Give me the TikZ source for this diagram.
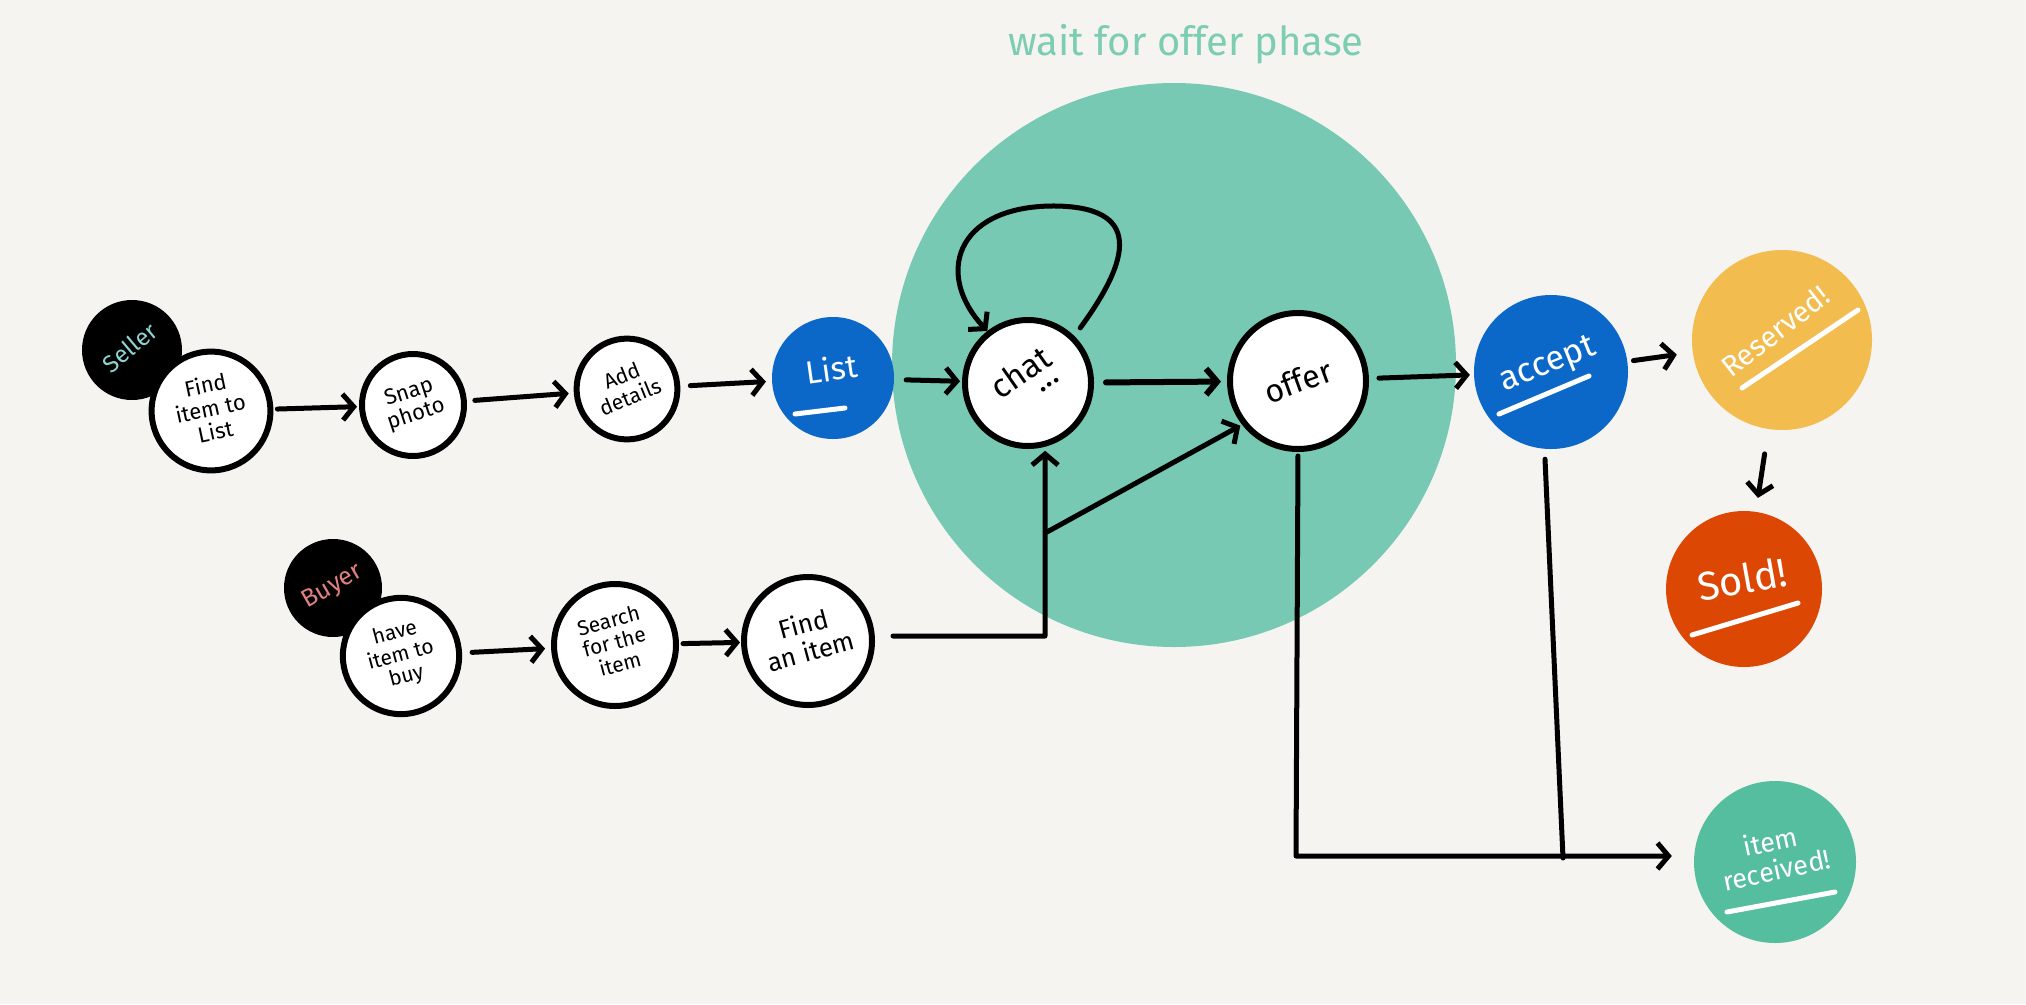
\documentclass[tikz,border=0pt]{standalone}
\usepackage{fontspec}
\usepackage{graphicx}
\setmainfont{Fira Sans}
\usetikzlibrary{arrows.meta,calc}
\definecolor{bgc}{RGB}{245,244,240}
\definecolor{phasegreen}{RGB}{119,201,179}
\definecolor{titlegreen}{RGB}{124,205,180}
\definecolor{listblue}{RGB}{11,104,200}
\definecolor{resyellow}{RGB}{242,188,78}
\definecolor{soldorange}{RGB}{220,71,4}
\definecolor{recgreen}{RGB}{85,190,158}
\definecolor{sellercyan}{RGB}{143,211,211}
\definecolor{buyerpink}{RGB}{224,128,128}
\newcommand{\rtxt}[2]{\rotatebox{#1}{\begin{tabular}{@{}c@{}}#2\end{tabular}}}
\begin{document}
\begin{tikzpicture}[x=1pt,y=-1pt,
  wnode/.style={circle, draw=black, line width=6pt, fill=white, minimum size=#1, inner sep=0pt, align=center},
  cnode/.style={circle, fill=#1, inner sep=0pt, align=center, text=white},
  fs/.style={font=\fontsize{#1}{#1}\selectfont},
  conn/.style={draw=black, line width=5pt, line cap=round, line join=round, -{Straight Barb[length=11pt,width=26pt]}},
  plain/.style={draw=black, line width=5pt, line cap=round, line join=round},
  uline/.style={draw=white, line width=5pt, line cap=round}]
\useasboundingbox (0,0) rectangle (2026,1004);
\fill[bgc] (0,0) rectangle (2026,1004);

% phase region
\node[circle, fill=phasegreen, minimum size=564pt, inner sep=0pt] (phase) at (1174,365) {};
\node[fs=40, text=titlegreen] (title) at (1186,44) {wait for offer phase};

% seller row
\node[circle, fill=black, minimum size=100pt, inner sep=0pt, text=sellercyan, fs=24] (seller) at (132,350) {\rtxt{40}{Seller}};
\node[wnode=110pt, fs=22] (find) at (211,411) {\rtxt{12}{Find\\item to\\List}};
\node[wnode=102pt, fs=22] (snap) at (413,405) {\rtxt{18}{Snap\\photo}};
\node[wnode=96pt, fs=21] (add) at (627,389) {\rtxt{22}{Add\\details}};
\node[cnode=listblue, minimum size=122pt, fs=32] (list) at (833,378) {\rtxt{8}{List\\[10pt]}};
\node[wnode=126pt, fs=33] (chat) at (1028,383) {\rtxt{35}{chat\\[-16pt]\hspace*{34pt}...}};
\node[wnode=136pt, fs=32] (offer) at (1298,381) {\rotatebox{20}{offer}};
\node[cnode=listblue, minimum size=154pt, fs=34] (accept) at (1551,372) {\rtxt{22}{accept\\[12pt]}};
\node[cnode=resyellow, minimum size=180pt, fs=29] (reserved) at (1782,340) {\rtxt{38}{Reserved!\\[14pt]}};
\node[cnode=soldorange, minimum size=156pt, fs=40] (sold) at (1744,589) {\rtxt{10}{Sold!\\[8pt]}};
\node[cnode=recgreen, minimum size=162pt, fs=27] (received) at (1775,862) {\rtxt{12}{item\\received!\\[6pt]}};

% buyer row
\node[circle, fill=black, minimum size=98pt, inner sep=0pt, text=buyerpink, fs=25] (buyer) at (333,588) {\rtxt{30}{Buyer}};
\node[wnode=108pt, fs=21] (have) at (401,656) {\rtxt{15}{have\\item to\\buy}};
\node[wnode=122pt, fs=21] (search) at (615,645) {\rtxt{15}{Search\\for the\\item}};
\node[wnode=128pt, fs=26] (finditem) at (808,641) {\rtxt{15}{Find\\an item}};

% underlines
\draw[uline] ($(list)+(-38,36)$) -- ($(list)+(12,30)$);
\draw[uline] ($(accept)+(-52,42)$) -- ($(accept)+(38,4)$);
\draw[uline] ($(reserved)+(-40,48)$) -- ($(reserved)+(76,-30)$);
\draw[uline] ($(sold)+(-52,46)$) -- ($(sold)+(54,14)$);
\draw[uline] ($(received)+(-48,50)$) -- ($(received)+(60,30)$);

% seller connectors
\draw[conn, shorten <=4pt, shorten >=2pt] (find) -- (snap);
\draw[conn, shorten <=8pt, shorten >=5pt] (snap) -- (add);
\draw[conn, shorten <=10pt, shorten >=6pt] (add) -- (list);
\draw[conn, shorten <=12pt, shorten >=2pt] (list) -- (chat);
\draw[conn, line width=6pt, shorten <=12pt, shorten >=6pt] (chat) -- (offer);
\draw[conn, shorten <=10pt, shorten >=4pt] (offer) -- (accept);
\draw[conn, shorten <=6pt, shorten >=16pt] (accept) -- (reserved);
\draw[conn, shorten <=25pt, shorten >=14pt] (reserved) -- (sold);

% self loop on chat
\draw[conn] (chat.48) ++(8,-6) coordinate (loopstart)
  .. controls (1130,260) and (1145,205) .. (1050,206)
  .. controls (955,208) and (935,275) .. (chat.128);

% buyer connectors
\draw[conn, shorten <=10pt, shorten >=6pt] (have) -- (search);
\draw[conn, shorten <=4pt, shorten >=1pt] (search) -- (finditem);
\coordinate (corner) at (1045,636);
\coordinate (split) at (1047,532);
\draw[conn, shorten <=18pt, shorten >=4pt] (finditem.east |- corner) -- (corner) -- (chat.-75);
\draw[conn, shorten >=2pt] (split) -- (offer.218);

% offer / accept to received
\coordinate (offercorner) at (1296,856);
\coordinate (join) at (1563,858);
\draw[conn, shorten <=4pt, shorten >=22pt] (offer.south) -- (offercorner) -- (received.west |- offercorner);
\draw[plain] ($(accept.south)+(-6,10)$) -- (join);
\end{tikzpicture}
\end{document}
